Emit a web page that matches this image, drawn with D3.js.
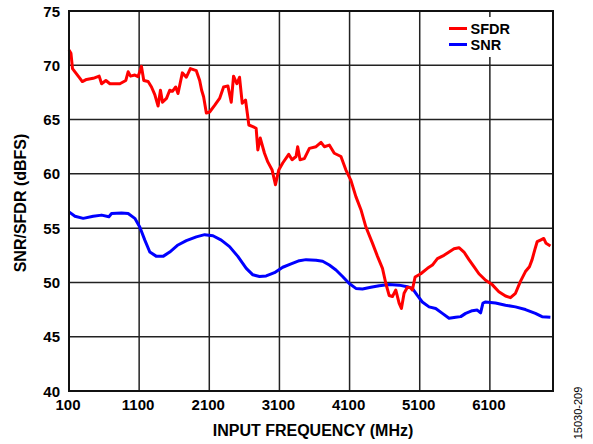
<!DOCTYPE html>
<html><head><meta charset="utf-8">
<script src="https://cdn.jsdelivr.net/npm/d3@7"></script>
<style>body{margin:0;background:#fff}svg{display:block}text{font-family:"Liberation Sans",Arial,sans-serif}</style>
</head><body>
<script>
const xTicks = [100,1100,2100,3100,4100,5100,6100];
const yTicks = [40,45,50,55,60,65,70,75];
const seriesNames = ["SFDR","SNR"];
const seriesColors = ["#ff0000","#0000ff"];
const sfdrFreq = [100,128,150,185,256,290,350,445,530,565,626,683,825,910,943,977,1038,1085,1133,1166,1228,1276,1323,1370,1404,1433,1490,1536,1574,1621,1654,1716,1773,1830,1915,1963,1991,2019,2058,2105,2176,2247,2304,2365,2413,2446,2493,2531,2570,2617,2664,2721,2768,2792,2826,2887,2934,2996,3043,3090,3147,3232,3280,3337,3360,3394,3455,3527,3622,3693,3740,3811,3882,3977,4048,4119,4190,4262,4333,4427,4498,4569,4617,4664,4711,4759,4806,4839,4877,4924,4972,4995,5034,5115,5210,5281,5352,5446,5518,5589,5660,5731,5802,5873,5944,6039,6133,6228,6323,6394,6465,6536,6607,6664,6702,6740,6774,6821,6868,6901,6963];
const sfdrVal = [71.4,71.1,69.7,69.4,68.8,68.5,68.7,68.8,69.0,68.3,68.6,68.3,68.3,68.6,69.4,69.0,69.1,68.95,69.9,68.6,68.5,68.0,67.3,66.25,67.7,66.6,66.95,67.7,67.6,68.0,67.4,69.3,68.9,69.7,69.5,68.6,67.7,67.1,65.6,65.7,66.3,66.95,68.0,68.1,66.6,69.0,68.3,68.9,66.5,66.8,64.5,64.35,64.2,62.2,63.3,61.9,61.1,60.35,59.0,60.35,61.0,61.8,61.3,61.6,62.5,61.3,61.4,62.35,62.5,62.9,62.5,62.65,61.9,61.6,60.35,59.4,57.9,56.7,55.1,53.6,52.4,51.3,49.9,48.8,48.7,49.3,48.1,47.6,49.0,49.55,49.5,49.3,50.5,50.8,51.3,51.6,52.2,52.5,52.8,53.1,53.2,52.8,52.1,51.45,50.8,50.2,49.8,49.15,48.75,48.6,49.0,50.1,51.0,51.45,52.1,53.0,53.75,53.9,54.05,53.6,53.35];
const snrFreq = [100,185,303,445,565,669,707,849,943,1038,1109,1181,1252,1347,1441,1536,1654,1773,1915,2034,2152,2271,2389,2507,2627,2721,2816,2911,3029,3147,3266,3384,3480,3622,3716,3811,3906,4000,4095,4190,4284,4403,4522,4664,4806,4924,4995,5066,5137,5233,5328,5423,5518,5613,5684,5755,5849,5920,5968,6001,6039,6181,6323,6465,6607,6749,6844,6963];
const snrVal = [56.5,56.1,55.9,56.1,56.2,56.05,56.35,56.4,56.35,55.9,55.1,53.9,52.8,52.4,52.4,52.8,53.45,53.85,54.2,54.4,54.3,53.9,53.3,52.4,51.3,50.7,50.55,50.6,50.9,51.4,51.7,52.0,52.1,52.05,51.95,51.6,51.15,50.55,49.9,49.45,49.4,49.55,49.7,49.8,49.75,49.6,49.45,48.8,48.2,47.75,47.6,47.15,46.7,46.8,46.85,47.15,47.4,47.45,47.2,48.1,48.2,48.1,47.9,47.75,47.5,47.15,46.85,46.8];

const W=593,H=444, L=69,R=553,T=11,B=391;
const svg=d3.select("body").append("svg").attr("width",W).attr("height",H);
const x=d3.scaleLinear().domain([100,7000]).range([L,R]);
const y=d3.scaleLinear().domain([40,75]).range([B,T]);

// grid
svg.append("g").selectAll("line").data(xTicks.slice(1)).join("line")
  .attr("x1",d=>x(d)).attr("x2",d=>x(d)).attr("y1",T).attr("y2",B)
  .attr("stroke","#222").attr("stroke-width",1.5);
svg.append("g").selectAll("line").data(yTicks.slice(1,-1)).join("line")
  .attr("y1",d=>y(d)).attr("y2",d=>y(d)).attr("x1",L).attr("x2",R)
  .attr("stroke","#222").attr("stroke-width",1.5);

// legend background
svg.append("rect").attr("x",446).attr("y",17).attr("width",82).attr("height",40).attr("fill","#fff");

const line=d3.line().x(d=>x(d[0])).y(d=>y(d[1]));
const sfdr=sfdrFreq.map((f,i)=>[f,sfdrVal[i]]);
const snr=snrFreq.map((f,i)=>[f,snrVal[i]]);
svg.append("path").datum(snr).attr("d",line).attr("fill","none").attr("stroke",seriesColors[1]).attr("stroke-width",3).attr("stroke-linejoin","round");
svg.append("path").datum(sfdr).attr("d",line).attr("fill","none").attr("stroke",seriesColors[0]).attr("stroke-width",3).attr("stroke-linejoin","round");

// frame
svg.append("rect").attr("x",L).attr("y",T).attr("width",R-L).attr("height",B-T).attr("fill","none").attr("stroke","#111").attr("stroke-width",2);

// tick labels
svg.append("g").selectAll("text").data(yTicks).join("text")
  .attr("x",L-9).attr("y",d=>y(d)).attr("text-anchor","end").attr("dominant-baseline","central")
  .attr("font-size",15).attr("font-weight","bold").text(d=>d);
svg.append("g").selectAll("text").data(xTicks).join("text")
  .attr("x",d=>x(d)-1).attr("y",404).attr("text-anchor","middle").attr("dominant-baseline","central")
  .attr("font-size",15).attr("font-weight","bold").text(d=>d);

// axis titles
svg.append("text").attr("x",313).attr("y",430).attr("text-anchor","middle").attr("dominant-baseline","central")
  .attr("font-size",16).attr("font-weight","bold").text("INPUT FREQUENCY (MHz)");
svg.append("text").attr("transform","translate(20,203) rotate(-90)").attr("text-anchor","middle").attr("dominant-baseline","central")
  .attr("font-size",16).attr("font-weight","bold").text("SNR/SFDR (dBFS)");
svg.append("text").attr("transform","translate(578,413) rotate(-90)").attr("text-anchor","middle").attr("dominant-baseline","central")
  .attr("font-size",11).text("15030-209");

// legend
const lg=svg.append("g");
seriesNames.forEach((n,i)=>{
  const yy=28.5+i*16;
  lg.append("line").attr("x1",449).attr("x2",467).attr("y1",yy).attr("y2",yy).attr("stroke",seriesColors[i]).attr("stroke-width",3);
  lg.append("text").attr("x",470.5).attr("y",yy).attr("dominant-baseline","central").attr("font-size",14.5).attr("font-weight","bold").text(n);
});
</script>
</body></html>
